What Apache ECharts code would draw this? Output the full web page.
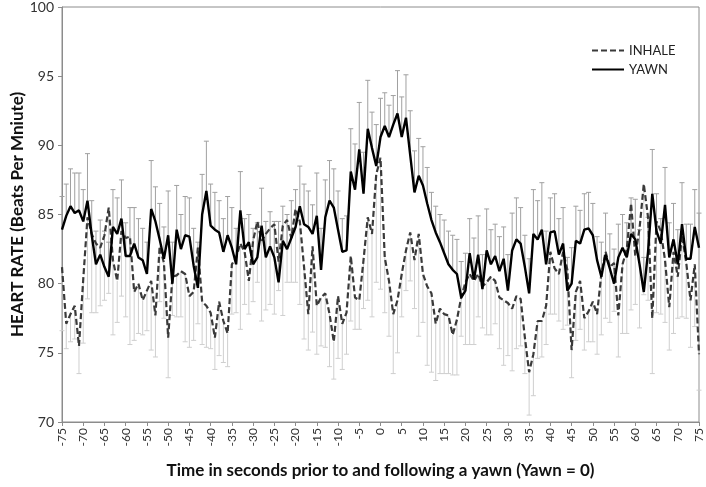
<!DOCTYPE html>
<html><head><meta charset="utf-8">
<script src="https://cdn.jsdelivr.net/npm/echarts@6/dist/echarts.min.js"></script>
<style>html,body{margin:0;padding:0;background:#fff}#c{width:706px;height:487px}</style>
</head><body><div id="c"></div>
<script>
// seconds -75 .. 75
const seconds = [];
for (let s = -75; s <= 75; s++) seconds.push(s);

const yawn = [
83.9,84.9,85.6,85.1,85.3,84.5,86.0,83.5,81.4,82.1,
81.2,80.5,84.1,83.6,84.7,82.0,82.0,82.9,81.9,81.7,
80.7,85.4,84.5,83.2,81.8,83.5,80.0,83.9,82.5,83.5,
83.4,81.3,79.7,85.0,86.7,84.2,83.9,83.7,82.3,83.5,
82.6,81.4,85.3,82.5,83.0,81.4,81.9,84.2,81.9,82.7,
81.9,80.1,83.1,82.5,83.3,84.1,85.6,84.3,84.1,83.6,
84.9,81.0,84.8,86.0,85.5,83.9,82.3,82.4,88.1,86.8,
89.7,86.5,91.2,89.8,88.5,90.6,91.4,90.6,91.5,92.3,
90.6,92.0,89.3,86.6,87.8,87.1,85.8,84.6,83.7,83.0,
82.2,81.4,81.0,80.7,79.0,79.5,82.2,80.3,82.1,79.6,
82.4,81.4,82.0,80.9,81.8,79.5,82.4,83.2,82.9,81.2,
79.3,83.6,83.2,83.9,81.4,83.7,83.8,82.1,82.9,79.5,
80.0,83.1,82.9,83.9,84.0,83.5,81.7,80.5,82.1,81.1,
80.0,81.9,82.6,81.9,83.6,83.2,81.4,79.4,82.3,86.5,
83.8,82.9,85.7,81.9,83.2,81.4,84.3,81.8,81.8,84.1,
82.6];

const inhale = [
81.2,77.1,77.8,78.4,75.5,80.3,84.8,83.6,82.9,82.6,
83.5,85.5,81.7,80.2,83.8,83.3,83.4,79.4,80.0,78.8,
79.5,80.2,77.7,82.7,81.5,76.1,80.5,80.6,80.9,80.7,
79.1,79.4,82.6,78.7,78.4,77.9,76.1,78.7,77.3,76.4,
81.4,81.9,82.9,82.3,80.2,83.1,84.5,83.1,83.6,84.0,
84.3,81.6,84.2,84.6,83.3,85.4,84.5,81.2,77.8,82.7,
78.4,79.0,79.3,77.8,75.8,79.1,77.1,77.9,82.0,79.0,
78.8,81.7,84.8,83.6,87.9,89.1,81.9,80.2,77.8,78.8,
80.7,82.4,83.7,81.7,83.6,80.7,79.8,79.3,77.1,78.2,
77.8,77.7,76.3,77.4,79.0,80.1,80.7,80.2,80.7,79.8,
80.1,80.5,80.2,79.0,78.8,78.6,78.2,79.1,78.9,76.1,
73.6,74.9,77.3,77.3,78.4,82.3,81.1,80.7,82.3,81.0,
75.2,79.4,80.2,77.5,78.0,78.7,77.8,80.7,82.3,81.2,
81.5,77.7,81.4,82.5,85.8,82.0,84.0,87.2,84.8,77.5,
84.5,83.8,81.7,78.3,82.3,80.5,83.5,81.5,78.8,81.4,
74.9];

// upper error (YAWN) and lower error (INHALE)
const yawnErr = [
2.4,2.3,2.7,2.9,2.7,2.3,3.4,2.5,2.4,2.5,2.6,2.5,2.7,2.6,2.8,2.4,3.5,2.6,2.8,2.3,2.3,3.5,2.5,2.6,
2.3,3.2,3.0,3.2,2.5,2.8,2.8,2.7,3.3,2.9,3.6,3.0,2.7,2.3,2.4,2.8,2.9,2.6,2.8,2.2,2.0,2.6,2.5,2.7,2.6,2.5,
2.6,4.4,2.5,2.5,2.7,2.7,2.9,2.9,2.6,2.1,3.1,3.0,2.7,2.9,2.8,2.8,2.4,2.5,3.1,3.3,
3.4,3.0,3.5,2.6,3.0,2.8,2.4,2.3,2.1,3.1,2.9,3.1,3.2,3.0,2.7,2.8,2.6,2.0,1.9,2.0,2.4,2.4,2.5,2.5,2.6,2.7,2.5,3.0,2.8,
2.5,3.0,2.5,2.3,2.5,2.3,2.6,2.7,3.0,2.6,2.3,2.5,3.2,2.8,3.4,2.4,2.5,2.7,2.6,2.6,2.4,2.6,2.5,2.4,
2.6,2.6,2.3,1.7,2.5,3.0,2.5,2.5,2.4,2.4,2.5,2.6,2.9,2.5,2.5,2.5,3.2,2.7,1.8,2.7,2.5,2.6,2.5,3.0,2.5,2.5,2.7,2.5];

const inhaleErr = [
4.6,1.8,2.0,2.4,2.0,4.6,5.9,5.7,5.0,4.2,4.7,6.2,5.4,3.0,4.7,5.7,7.8,3.5,3.6,2.5,2.9,5.0,3.0,4.0,
4.0,2.9,2.8,3.0,3.3,4.9,3.7,3.5,5.5,3.1,3.0,2.6,2.3,3.9,3.0,2.4,3.6,4.0,6.2,3.8,2.4,4.4,4.4,5.8,5.5,5.5,
6.5,2.1,6.5,4.5,3.2,5.3,6.0,5.2,2.6,6.2,3.5,3.5,3.9,3.8,2.7,4.5,3.3,3.0,4.7,2.3,
2.1,3.5,6.0,6.0,7.8,9.5,4.0,4.0,4.3,3.8,3.1,2.9,3.5,3.5,7.4,3.5,5.7,5.7,4.1,4.7,4.3,4.2,2.9,4.0,2.8,4.5,5.1,4.6,3.1,
3.0,3.8,4.2,3.1,3.7,4.7,3.8,4.5,3.8,3.4,2.6,3.1,3.0,2.7,2.6,2.8,4.5,3.3,3.4,5.6,4.0,2.0,3.5,3.5,
2.3,2.2,2.9,2.9,4.4,4.8,4.0,3.5,3.0,5.0,6.1,7.7,3.5,7.2,8.0,6.0,4.0,6.6,6.0,4.5,3.1,5.9,3.0,5.9,4.0,3.4,4.5,2.6];

const yTicks = [70, 75, 80, 85, 90, 95, 100];

const FONT = 'Lato, "Noto Sans", sans-serif';
const yawnPts = seconds.map((s, i) => [s, yawn[i]]);
const inhalePts = seconds.map((s, i) => [s, inhale[i]]);
const yawnErrPts = seconds.map((s, i) => [s, yawn[i], yawnErr[i]]);
const inhaleErrPts = seconds.map((s, i) => [s, inhale[i], -inhaleErr[i]]);

function errRender(color) {
  return function (params, api) {
    const x = api.value(0), y = api.value(1), e = api.value(2);
    const p0 = api.coord([x, y]);
    const p1 = api.coord([x, y + e]);
    return {
      type: 'group',
      children: [
        { type: 'line', shape: { x1: p0[0], y1: p0[1], x2: p1[0], y2: p1[1] }, style: { stroke: color, lineWidth: 1 } },
        { type: 'line', shape: { x1: p1[0] - 2.5, y1: p1[1], x2: p1[0] + 2.5, y2: p1[1] }, style: { stroke: color, lineWidth: 1 } }
      ]
    };
  };
}

const chart = echarts.init(document.getElementById('c'), null, { renderer: 'canvas' });
chart.setOption({
  animation: false,
  backgroundColor: '#fff',
  grid: { left: 62, right: 7, top: 7, bottom: 65, containLabel: false, outerBoundsMode: 'none',
          show: true, borderColor: '#8c8c8c', borderWidth: 1, backgroundColor: 'transparent' },
  legend: {
    data: ['INHALE', 'YAWN'],
    orient: 'vertical',
    left: 586, top: 39,
    itemWidth: 32, itemHeight: 12, itemGap: 6,
    itemStyle: { opacity: 0 },
    textStyle: { fontFamily: FONT, fontSize: 13, color: '#222' }
  },
  xAxis: {
    type: 'value', min: -75, max: 75, interval: 5,
    name: 'Time in seconds prior to and following a yawn (Yawn = 0)',
    nameLocation: 'middle', nameGap: 40,
    nameTextStyle: { fontFamily: FONT, fontSize: 17, fontWeight: 'bold', color: '#111' },
    axisLine: { show: true, onZero: false, lineStyle: { color: '#8c8c8c' } },
    axisTick: { show: true, length: 4, lineStyle: { color: '#8c8c8c' } },
    axisLabel: { rotate: 90, fontFamily: FONT, fontSize: 12, color: '#333', margin: 6 },
    splitLine: { show: false }
  },
  yAxis: {
    type: 'value', min: yTicks[0], max: yTicks[yTicks.length - 1], interval: 5,
    name: 'HEART RATE (Beats Per Mniute)',
    nameLocation: 'middle', nameGap: 36, nameRotate: 90, nameMoveOverlap: false,
    nameTextStyle: { fontFamily: FONT, fontSize: 17, fontWeight: 'bold', color: '#111' },
    axisLine: { show: true, onZero: false, lineStyle: { color: '#8c8c8c' } },
    axisTick: { show: true, length: 4, lineStyle: { color: '#8c8c8c' } },
    axisLabel: { fontFamily: FONT, fontSize: 14, color: '#333', margin: 8 },
    splitLine: { show: false }
  },
  series: [
    { type: 'custom', name: 'inhaleErr', data: inhaleErrPts, renderItem: errRender('#cfcfcf'), z: 1, silent: true, encode: { x: 0, y: 1 } },
    { type: 'custom', name: 'yawnErr', data: yawnErrPts, renderItem: errRender('#a0a0a0'), z: 2, silent: true, encode: { x: 0, y: 1 } },
    { type: 'line', name: 'INHALE', data: inhalePts, symbol: 'none', z: 3,
      lineStyle: { color: '#3a3a3a', width: 2.2, type: [6, 3] }, itemStyle: { color: '#3a3a3a' } },
    { type: 'line', name: 'YAWN', data: yawnPts, symbol: 'none', z: 4,
      lineStyle: { color: '#000', width: 2.4 }, itemStyle: { color: '#000' } }
  ]
});
</script></body></html>
